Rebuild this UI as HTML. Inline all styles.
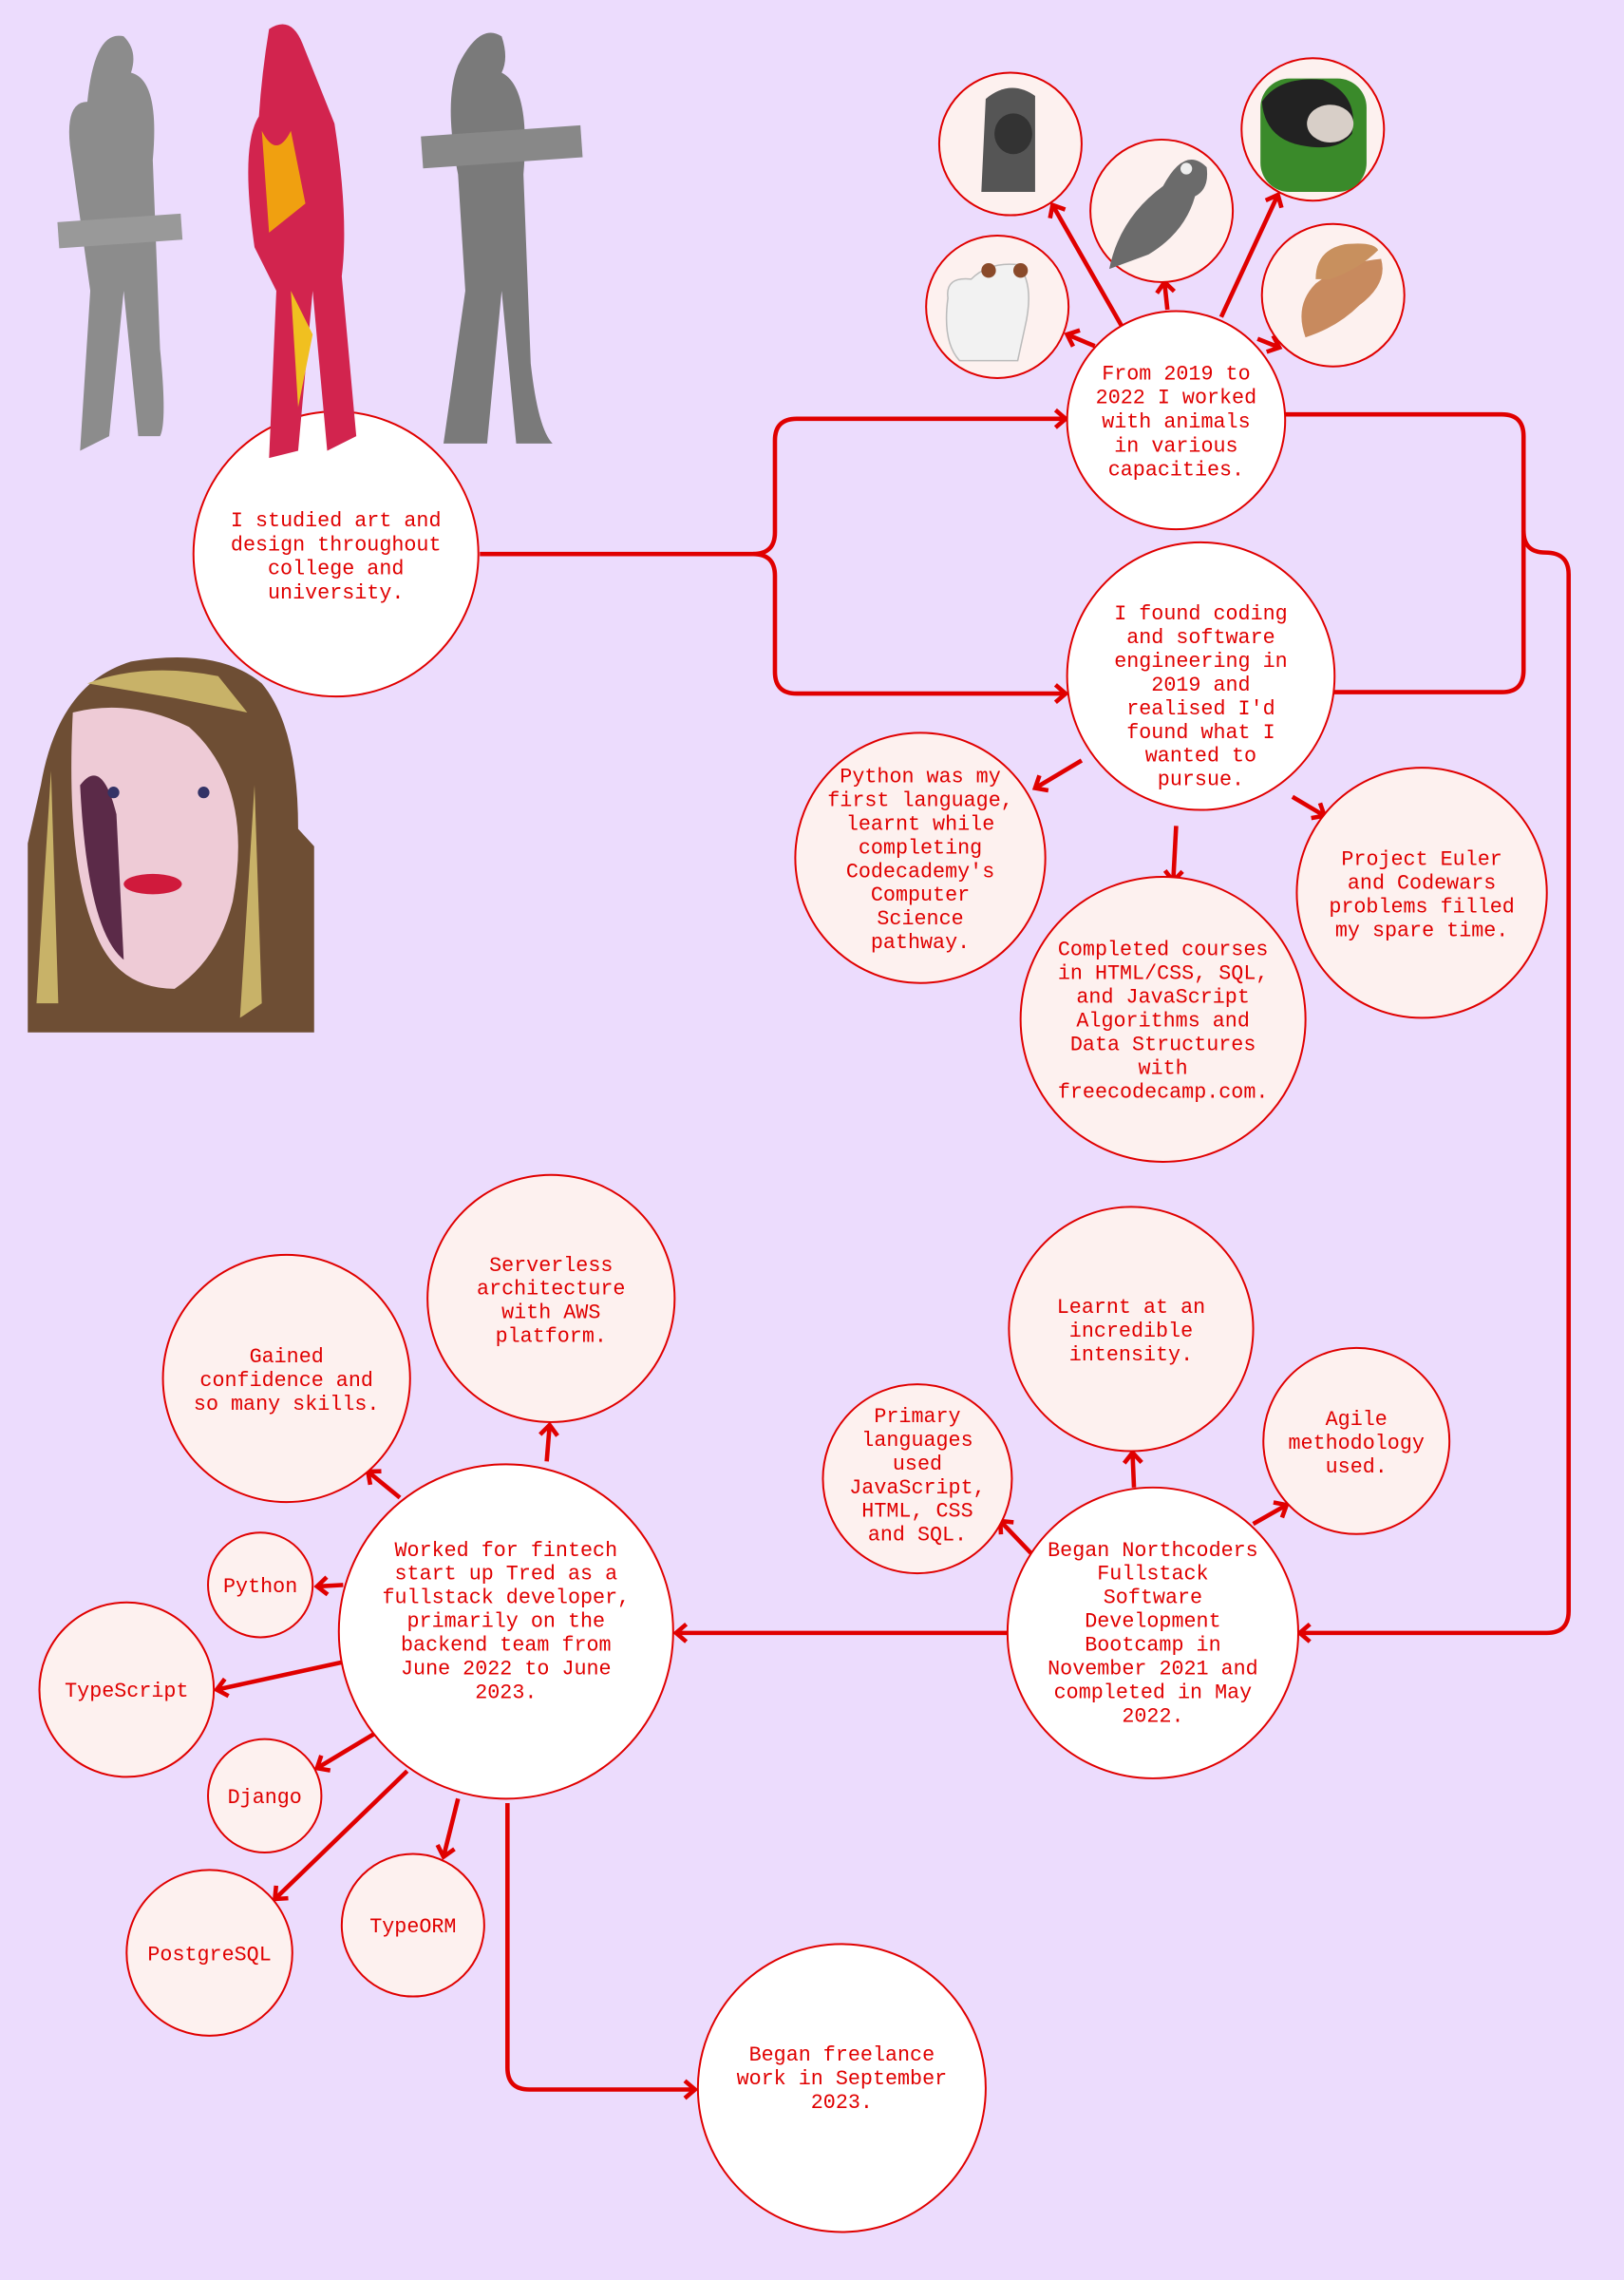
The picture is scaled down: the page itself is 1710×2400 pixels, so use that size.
<!DOCTYPE html>
<html><head><meta charset="utf-8"><style>
html,body{margin:0;padding:0;background:#ecdcfd;}
svg{display:block}
text{font-family:"Liberation Mono",monospace;font-size:14.2px;fill:#e00000;text-anchor:middle;}
</style></head><body>
<svg width="1710" height="2400" viewBox="0 0 1117 1568" xmlns="http://www.w3.org/2000/svg">
<defs>
<marker id="a" markerWidth="16" markerHeight="16" refX="11" refY="8" orient="auto" markerUnits="userSpaceOnUse">
<path d="M4,2 L11,8 L4,14" fill="none" stroke="#e00000" stroke-width="3"/>
</marker>
</defs>
<rect width="1117" height="1568" fill="#ecdcfd"/>
<g fill="none" stroke="#e00000" stroke-width="3">
<path d="M330,381 L518,381 Q533,381 533,366 L533,303 Q533,288 548,288 L733,288" marker-end="url(#a)"/>
<path d="M518,381 Q533,381 533,396 L533,462 Q533,477 548,477 L733,477" marker-end="url(#a)"/>
<path d="M884,285 L1033,285 Q1048,285 1048,300 L1048,461 Q1048,476 1033,476 L917,476"/>
<path d="M1048,365 Q1048,380 1063,380 Q1079,380 1079,395 L1079,1108 Q1079,1123 1064,1123 L894,1123" marker-end="url(#a)"/>
<path d="M693,1123 L465,1123" marker-end="url(#a)"/>
<path d="M349,1240 L349,1422 Q349,1437 364,1437 L478,1437" marker-end="url(#a)"/>
<path d="M753,238 L734,230" marker-end="url(#a)"/>
<path d="M772,225 L724,141" marker-end="url(#a)"/>
<path d="M803,213 L801,194" marker-end="url(#a)"/>
<path d="M840,218 L879,134" marker-end="url(#a)"/>
<path d="M865,233 L880,239" marker-end="url(#a)"/>
<path d="M744,523 L712,542" marker-end="url(#a)"/>
<path d="M809,568 L807,606" marker-end="url(#a)"/>
<path d="M889,548 L911,561" marker-end="url(#a)"/>
<path d="M709,1068 L688,1046" marker-end="url(#a)"/>
<path d="M780,1023 L779,999" marker-end="url(#a)"/>
<path d="M862,1048 L885,1035" marker-end="url(#a)"/>
<path d="M376,1005 L378,980" marker-end="url(#a)"/>
<path d="M275,1030 L253,1012" marker-end="url(#a)"/>
<path d="M236,1090 L218,1091" marker-end="url(#a)"/>
<path d="M236,1143 L149,1162" marker-end="url(#a)"/>
<path d="M258,1192 L218,1216" marker-end="url(#a)"/>
<path d="M280,1218 L189,1306" marker-end="url(#a)"/>
<path d="M315,1237 L305,1277" marker-end="url(#a)"/>
</g>
<g stroke="#e00000" stroke-width="1.3">
<circle cx="231" cy="381" r="98" fill="#fff"/>
<circle cx="809" cy="289" r="75" fill="#fff"/>
<circle cx="826" cy="465" r="92" fill="#fff"/>
<circle cx="633" cy="590" r="86" fill="#fdf1ef"/>
<circle cx="800" cy="701" r="98" fill="#fdf1ef"/>
<circle cx="978" cy="614" r="86" fill="#fdf1ef"/>
<circle cx="778" cy="914" r="84" fill="#fdf1ef"/>
<circle cx="631" cy="1017" r="65" fill="#fdf1ef"/>
<circle cx="933" cy="991" r="64" fill="#fdf1ef"/>
<circle cx="793" cy="1123" r="100" fill="#fff"/>
<circle cx="348" cy="1122" r="115" fill="#fff"/>
<circle cx="379" cy="893" r="85" fill="#fdf1ef"/>
<circle cx="197" cy="948" r="85" fill="#fdf1ef"/>
<circle cx="179" cy="1090" r="36" fill="#fdf1ef"/>
<circle cx="87" cy="1162" r="60" fill="#fdf1ef"/>
<circle cx="182" cy="1235" r="39" fill="#fdf1ef"/>
<circle cx="144" cy="1343" r="57" fill="#fdf1ef"/>
<circle cx="284" cy="1324" r="49" fill="#fdf1ef"/>
<circle cx="579" cy="1436" r="99" fill="#fff"/>
<circle cx="695" cy="99" r="49" fill="#fdf1ef"/>
<circle cx="799" cy="145" r="49" fill="#fdf1ef"/>
<circle cx="903" cy="89" r="49" fill="#fdf1ef"/>
<circle cx="686" cy="211" r="49" fill="#fdf1ef"/>
<circle cx="917" cy="203" r="49" fill="#fdf1ef"/>
</g>
<g>
<path d="M678,68 Q695,54 712,66 L712,132 L675,132 Z" fill="#555"/>
<ellipse cx="697" cy="92" rx="13" ry="14" fill="#333"/>
<path d="M763,185 Q770,150 800,128 Q815,100 830,115 Q832,130 822,135 Q815,160 790,175 Z" fill="#6b6b6b"/>
<circle cx="816" cy="116" r="4" fill="#eee"/>
<rect x="867" y="54" width="73" height="78" rx="20" fill="#3a8a2a"/>
<path d="M868,70 Q880,52 910,55 Q935,65 930,92 Q920,105 895,100 Q870,95 868,70 Z" fill="#222"/>
<ellipse cx="915" cy="85" rx="16" ry="13" fill="#d8cfc8"/>
<path d="M652,205 Q650,190 668,192 Q680,180 700,182 Q712,195 705,225 L700,248 L660,248 Q648,235 652,205 Z" fill="#f2f2f2" stroke="#bbb" stroke-width="1"/>
<circle cx="680" cy="186" r="5" fill="#8a4a2a"/><circle cx="702" cy="186" r="5" fill="#8a4a2a"/>
<path d="M898,232 Q890,210 905,195 Q925,180 950,178 Q955,195 935,210 Q920,225 898,232 Z" fill="#c88a5e"/>
<path d="M905,192 Q905,172 925,168 Q945,166 948,172 Q935,185 915,192 Z" fill="#c8905e"/>
</g>
<g>
<path d="M60,70 Q65,20 85,25 Q95,35 90,50 Q110,55 105,110 L110,240 Q115,290 110,300 L95,300 L85,200 L75,300 L55,310 L62,200 L48,100 Q45,70 60,70 Z" fill="#8c8c8c"/>
<rect x="40" y="150" width="85" height="18" fill="#999" transform="rotate(-4 80 160)"/>
<path d="M185,20 Q200,10 208,30 Q220,60 230,85 Q240,150 235,190 L245,300 L225,310 L215,200 L205,310 L185,315 L190,200 L175,170 Q165,100 178,80 Q180,50 185,20 Z" fill="#d2244e"/>
<path d="M180,90 Q190,110 200,90 L210,140 L185,160 Z" fill="#f0a010"/>
<path d="M200,200 L215,230 L205,280 Z" fill="#f0c020"/>
<path d="M315,45 Q330,15 345,25 Q350,40 345,50 Q365,60 360,120 L365,250 Q370,295 380,305 L355,305 L345,200 L335,305 L305,305 L320,200 L315,120 Q305,70 315,45 Z" fill="#7a7a7a"/>
<rect x="290" y="90" width="110" height="22" fill="#888" transform="rotate(-4 345 100)"/>
</g>
<g>
<path d="M28,540 Q40,470 90,455 Q150,445 180,470 Q205,500 205,570 L216,582 L216,710 L19,710 L19,580 Z" fill="#6e4e34"/>
<path d="M60,470 Q100,455 150,465 L170,490 L120,480 Z" fill="#c8b268"/>
<path d="M50,490 Q90,480 130,500 Q175,540 160,620 Q150,660 120,680 Q80,680 65,640 Q45,590 50,490 Z" fill="#eecbd6"/>
<path d="M55,540 Q70,520 80,560 L85,660 Q60,640 55,540 Z" fill="#5b2a48"/>
<ellipse cx="105" cy="608" rx="20" ry="7" fill="#d01a3c"/>
<circle cx="78" cy="545" r="4" fill="#336"/><circle cx="140" cy="545" r="4" fill="#336"/>
<path d="M175,540 L180,690 L165,700 Z" fill="#c8b268"/>
<path d="M35,530 L40,690 L25,690 Z" fill="#c8b268"/>
</g>
<text x="231" y="362"><tspan x="231">I studied art and</tspan><tspan x="231" dy="16.5">design throughout</tspan><tspan x="231" dy="16.5">college and</tspan><tspan x="231" dy="16.5">university.</tspan></text>
<text x="809" y="261"><tspan x="809">From 2019 to</tspan><tspan x="809" dy="16.5">2022 I worked</tspan><tspan x="809" dy="16.5">with animals</tspan><tspan x="809" dy="16.5">in various</tspan><tspan x="809" dy="16.5">capacities.</tspan></text>
<text x="826" y="426"><tspan x="826">I found coding</tspan><tspan x="826" dy="16.3">and software</tspan><tspan x="826" dy="16.3">engineering in</tspan><tspan x="826" dy="16.3">2019 and</tspan><tspan x="826" dy="16.3">realised I'd</tspan><tspan x="826" dy="16.3">found what I</tspan><tspan x="826" dy="16.3">wanted to</tspan><tspan x="826" dy="16.3">pursue.</tspan></text>
<text x="633" y="538"><tspan x="633">Python was my</tspan><tspan x="633" dy="16.3">first language,</tspan><tspan x="633" dy="16.3">learnt while</tspan><tspan x="633" dy="16.3">completing</tspan><tspan x="633" dy="16.3">Codecademy's</tspan><tspan x="633" dy="16.3">Computer</tspan><tspan x="633" dy="16.3">Science</tspan><tspan x="633" dy="16.3">pathway.</tspan></text>
<text x="800" y="657"><tspan x="800">Completed courses</tspan><tspan x="800" dy="16.3">in HTML/CSS, SQL,</tspan><tspan x="800" dy="16.3">and JavaScript</tspan><tspan x="800" dy="16.3">Algorithms and</tspan><tspan x="800" dy="16.3">Data Structures</tspan><tspan x="800" dy="16.3">with</tspan><tspan x="800" dy="16.3">freecodecamp.com.</tspan></text>
<text x="978" y="595"><tspan x="978">Project Euler</tspan><tspan x="978" dy="16.3">and Codewars</tspan><tspan x="978" dy="16.3">problems filled</tspan><tspan x="978" dy="16.3">my spare time.</tspan></text>
<text x="778" y="903"><tspan x="778">Learnt at an</tspan><tspan x="778" dy="16.3">incredible</tspan><tspan x="778" dy="16.3">intensity.</tspan></text>
<text x="631" y="978"><tspan x="631">Primary</tspan><tspan x="631" dy="16.3">languages</tspan><tspan x="631" dy="16.3">used</tspan><tspan x="631" dy="16.3">JavaScript,</tspan><tspan x="631" dy="16.3">HTML, CSS</tspan><tspan x="631" dy="16.3">and SQL.</tspan></text>
<text x="933" y="980"><tspan x="933">Agile</tspan><tspan x="933" dy="16.3">methodology</tspan><tspan x="933" dy="16.3">used.</tspan></text>
<text x="793" y="1070"><tspan x="793">Began Northcoders</tspan><tspan x="793" dy="16.3">Fullstack</tspan><tspan x="793" dy="16.3">Software</tspan><tspan x="793" dy="16.3">Development</tspan><tspan x="793" dy="16.3">Bootcamp in</tspan><tspan x="793" dy="16.3">November 2021 and</tspan><tspan x="793" dy="16.3">completed in May</tspan><tspan x="793" dy="16.3">2022.</tspan></text>
<text x="348" y="1070"><tspan x="348">Worked for fintech</tspan><tspan x="348" dy="16.3">start up Tred as a</tspan><tspan x="348" dy="16.3">fullstack developer,</tspan><tspan x="348" dy="16.3">primarily on the</tspan><tspan x="348" dy="16.3">backend team from</tspan><tspan x="348" dy="16.3">June 2022 to June</tspan><tspan x="348" dy="16.3">2023.</tspan></text>
<text x="379" y="874"><tspan x="379">Serverless</tspan><tspan x="379" dy="16.3">architecture</tspan><tspan x="379" dy="16.3">with AWS</tspan><tspan x="379" dy="16.3">platform.</tspan></text>
<text x="197" y="937"><tspan x="197">Gained</tspan><tspan x="197" dy="16.3">confidence and</tspan><tspan x="197" dy="16.3">so many skills.</tspan></text>
<text x="179" y="1095">Python</text>
<text x="87" y="1167">TypeScript</text>
<text x="182" y="1240">Django</text>
<text x="144" y="1348">PostgreSQL</text>
<text x="284" y="1329">TypeORM</text>
<text x="579" y="1417"><tspan x="579">Began freelance</tspan><tspan x="579" dy="16.3">work in September</tspan><tspan x="579" dy="16.3">2023.</tspan></text>
</svg>
</body></html>
